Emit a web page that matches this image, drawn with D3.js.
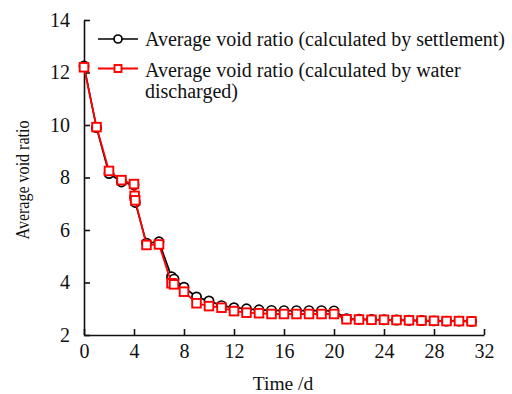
<!DOCTYPE html>
<html>
<head>
<meta charset="utf-8">
<script src="https://cdn.jsdelivr.net/npm/d3@7"></script>
<style>
  html, body { margin: 0; padding: 0; background: #fff; }
  svg { display: block; }
  text { font-family: "Liberation Serif", "Times New Roman", serif; fill: #111; }
</style>
</head>
<body>
<svg id="chart" width="512" height="394"></svg>
<script>
// Time (days) for both series
const timeDays = [0, 1, 2, 3, 4, 4.05, 4.1, 5, 6, 7, 7.2, 8, 9, 10, 11, 12, 13, 14, 15, 16, 17, 18, 19, 20, 21, 22, 23, 24, 25, 26, 27, 28, 29, 30, 31];
// Average void ratio calculated by settlement
const voidSettlement = [12.25, 9.9, 8.15, 7.83, 7.72, 7.25, 7.05, 5.5, 5.55, 4.22, 4.13, 3.82, 3.45, 3.3, 3.12, 3.04, 3.0, 2.96, 2.94, 2.93, 2.93, 2.93, 2.93, 2.92, 2.62, 2.6, 2.59, 2.58, 2.57, 2.56, 2.55, 2.54, 2.53, 2.53, 2.52];
// Average void ratio calculated by water discharged
const voidWater = [12.2, 9.92, 8.25, 7.9, 7.75, 7.3, 7.13, 5.43, 5.45, 3.97, 3.93, 3.65, 3.21, 3.1, 3.04, 2.91, 2.85, 2.83, 2.8, 2.8, 2.8, 2.8, 2.8, 2.8, 2.6, 2.59, 2.58, 2.58, 2.57, 2.56, 2.55, 2.54, 2.53, 2.53, 2.52];

const xTicks = [0, 4, 8, 12, 16, 20, 24, 28, 32];
const yTicks = [2, 4, 6, 8, 10, 12, 14];
const seriesNames = ["Average void ratio (calculated by settlement)", "Average void ratio (calculated by water", "discharged)"];

const svg = d3.select("#chart");
const x = d3.scaleLinear().domain([0, 32]).range([84, 484]);
const y = d3.scaleLinear().domain([2, 14]).range([335, 20]);

// Axes with inward ticks
const xAxis = svg.append("g").attr("transform", `translate(0,${y(2)})`)
  .call(d3.axisBottom(x).tickValues(xTicks).tickSizeInner(-6).tickSizeOuter(0).tickPadding(9));
const yAxis = svg.append("g").attr("transform", `translate(${x(0)},0)`)
  .call(d3.axisLeft(y).tickValues(yTicks).tickSizeInner(-6).tickSizeOuter(0).tickPadding(14));
[xAxis, yAxis].forEach(g => {
  g.select(".domain").attr("stroke", "#111").attr("stroke-width", 1.6);
  g.selectAll(".tick line").attr("stroke", "#111").attr("stroke-width", 1.6);
  g.selectAll(".tick text").style("font-family", '"Liberation Serif", serif').style("font-size", "20px").attr("fill", "#111");
});
xAxis.selectAll(".tick text").attr("y", 23).attr("dy", 0);

// Axis titles
svg.append("text").attr("x", 283).attr("y", 390).attr("text-anchor", "middle")
  .style("font-size", "19.5px").text("Time /d");
svg.append("text").attr("transform", `translate(29,180) rotate(-90)`).attr("text-anchor", "middle")
  .attr("textLength", 119).attr("lengthAdjust", "spacingAndGlyphs")
  .style("font-size", "18px").text("Average void ratio");

const line = d3.line().x((d, i) => x(timeDays[i])).y(d => y(d));

// Settlement series (black circles)
svg.append("path").datum(voidSettlement).attr("d", line)
  .attr("fill", "none").attr("stroke", "#000").attr("stroke-width", 1.7);
svg.append("g").selectAll("circle").data(voidSettlement).join("circle")
  .attr("cx", (d, i) => x(timeDays[i])).attr("cy", d => y(d)).attr("r", 4.6)
  .attr("fill", "#fff").attr("stroke", "#000").attr("stroke-width", 1.7);

// Water-discharged series (red squares)
svg.append("path").datum(voidWater).attr("d", line)
  .attr("fill", "none").attr("stroke", "#f00").attr("stroke-width", 1.8);
svg.append("g").selectAll("rect").data(voidWater).join("rect")
  .attr("x", (d, i) => x(timeDays[i]) - 4.3).attr("y", d => y(d) - 4.3)
  .attr("width", 8.6).attr("height", 8.6)
  .attr("fill", "#fff").attr("stroke", "#f00").attr("stroke-width", 1.9);

// Legend
const lg = svg.append("g");
lg.append("line").attr("x1", 98).attr("x2", 138).attr("y1", 39).attr("y2", 39)
  .attr("stroke", "#000").attr("stroke-width", 1.7);
lg.append("circle").attr("cx", 118).attr("cy", 39).attr("r", 4)
  .attr("fill", "#fff").attr("stroke", "#000").attr("stroke-width", 1.7);
lg.append("text").attr("x", 145).attr("y", 46).style("font-size", "20px").text(seriesNames[0]);

lg.append("line").attr("x1", 98).attr("x2", 138).attr("y1", 68.5).attr("y2", 68.5)
  .attr("stroke", "#f00").attr("stroke-width", 1.8);
lg.append("rect").attr("x", 114.5).attr("y", 65).attr("width", 7).attr("height", 7)
  .attr("fill", "#fff").attr("stroke", "#f00").attr("stroke-width", 1.9);
lg.append("text").attr("x", 145).attr("y", 77).style("font-size", "20px").text(seriesNames[1]);
lg.append("text").attr("x", 145).attr("y", 98).style("font-size", "20px").text(seriesNames[2]);
</script>
</body>
</html>
